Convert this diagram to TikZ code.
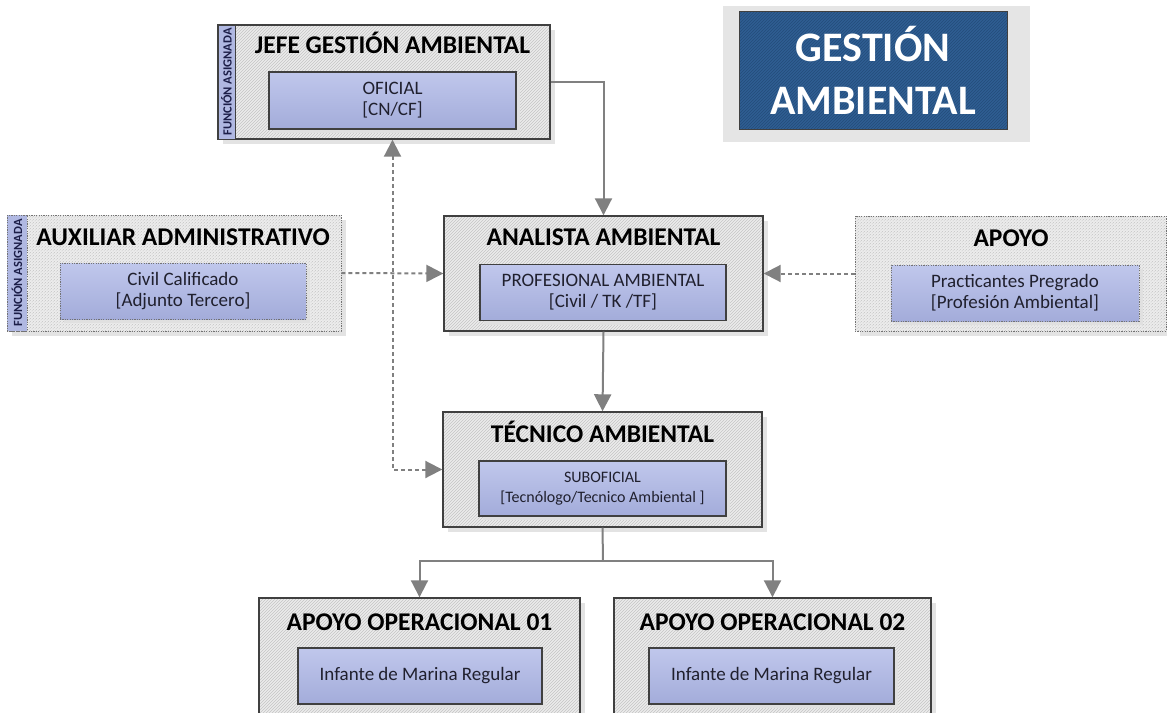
\documentclass[tikz,border=0pt]{standalone}
\usepackage{fontspec}
\setmainfont{Carlito}
\usetikzlibrary{arrows.meta,patterns,shadows,positioning}

\definecolor{boxgray}{RGB}{236,236,236}
\definecolor{hatchgray}{RGB}{196,196,196}
\definecolor{edgegray}{RGB}{64,64,64}
\definecolor{rolefill}{RGB}{176,184,226}
\definecolor{roletop}{RGB}{192,199,236}
\definecolor{rolebot}{RGB}{163,172,218}
\definecolor{linkgray}{RGB}{128,128,128}
\definecolor{bannerblue}{RGB}{47,94,146}
\definecolor{hatchblue}{RGB}{36,76,122}
\definecolor{panelgray}{RGB}{229,229,229}
\definecolor{navytext}{RGB}{28,30,72}
\definecolor{roletext}{RGB}{32,32,46}

\begin{document}
\begin{tikzpicture}[x=1pt,y=-1pt,
  unit/.style={draw=edgegray, line width=1.4pt, inner sep=0pt,
    drop shadow={shadow xshift=5pt, shadow yshift=-5pt, fill=black!11, opacity=1},
    preaction={fill=boxgray}, pattern=north east lines, pattern color=hatchgray},
  loose/.style={draw=black!55, line width=0.9pt, dash pattern=on 1.2pt off 1.2pt},
  unittitle/.style={anchor=base, inner sep=0pt, font=\fontsize{25.5}{28}\selectfont\bfseries},
  role/.style={draw=edgegray, line width=1.4pt, top color=roletop, bottom color=rolebot,
    drop shadow={shadow xshift=4pt, shadow yshift=-4pt, fill=black!12, opacity=1},
    minimum width=246pt, minimum height=56pt, inner sep=0pt, align=center,
    text=roletext, font=\fontsize{19}{21}\selectfont},
  tag/.style={rotate=90, draw=edgegray, line width=1pt, fill=rolefill, inner sep=0pt,
    text=navytext, font=\fontsize{12.5}{13}\selectfont\bfseries},
  solidlink/.style={draw=linkgray, line width=2pt, -{Triangle[length=17pt,width=17pt]}},
  dashlink/.style={solidlink, dash pattern=on 4pt off 3pt}]
\useasboundingbox (0,0) rectangle (1167,712);
\clip (0,0) rectangle (1167,712);

% banner
\node[fill=panelgray, minimum width=307pt, minimum height=136pt] (panel) at (876.5,74) {};
\node[draw=edgegray, line width=0.8pt, preaction={fill=bannerblue}, pattern=north east lines,
  pattern color=hatchblue, minimum width=268pt, minimum height=118pt, inner sep=0pt,
  align=center, text=white, font=\fontsize{42}{53}\selectfont\bfseries] (banner) at (873,70) {GESTIÓN\\AMBIENTAL};

% jefe
\node[unit, minimum width=332pt, minimum height=114pt] (jefe) at (384,82) {};
\node[tag, minimum width=114pt, minimum height=17pt] (jefetag) at (226.5,82) {FUNCIÓN ASIGNADA};
\node[unittitle] (jefetitle) at (392.5,53) {JEFE GESTIÓN AMBIENTAL};
\node[role, minimum width=247pt, minimum height=57pt] (ofi) at (392.5,100.5) {OFICIAL\\{}[CN/CF]};

% auxiliar
\node[unit, loose, minimum width=334pt, minimum height=116pt] (aux) at (174,273) {};
\node[tag, loose, minimum width=116pt, minimum height=20pt] (auxtag) at (17,273) {FUNCIÓN ASIGNADA};
\node[unittitle] (auxtitle) at (183,245) {AUXILIAR ADMINISTRATIVO};
\node[role, loose] (civil) at (183,291) {Civil Calificado\\{}[Adjunto Tercero]};

% analista
\node[unit, minimum width=319pt, minimum height=115pt] (analista) at (603.5,273.5) {};
\node[unittitle] (analistatitle) at (603.5,245) {ANALISTA AMBIENTAL};
\node[role] (prof) at (603,292.5) {PROFESIONAL AMBIENTAL\\{}[Civil / TK /TF]};

% apoyo
\node[unit, loose, minimum width=311pt, minimum height=115pt] (apoyo) at (1010.5,273.5) {};
\node[unittitle] (apoyotitle) at (1011,246) {APOYO};
\node[role, loose, minimum width=248pt] (pract) at (1015,293) {Practicantes Pregrado\\{}[Profesión Ambiental]};

% tecnico
\node[unit, minimum width=319pt, minimum height=115pt] (tecnico) at (602.5,469.5) {};
\node[unittitle] (tecnicotitle) at (602.5,442) {TÉCNICO AMBIENTAL};
\node[role, minimum width=247pt, minimum height=55pt, font=\fontsize{16}{20}\selectfont] (subof) at (602.5,488.5) {SUBOFICIAL\\{}[Tecnólogo/Tecnico Ambiental ]};

% apoyo operacional
\node[unit, minimum width=321pt, minimum height=117pt] (op1) at (419.5,656.5) {};
\node[unittitle] (op1title) at (419.5,630) {APOYO OPERACIONAL 01};
\node[role, minimum width=244pt] (inf1) at (420,676) {Infante de Marina Regular};
\node[unit, minimum width=317pt, minimum height=117pt] (op2) at (772.5,656.5) {};
\node[unittitle] (op2title) at (772.5,630) {APOYO OPERACIONAL 02};
\node[role, minimum width=245pt] (inf2) at (771.5,676) {Infante de Marina Regular};

% links
\coordinate (split) at (603,561);
\draw[solidlink] (jefe.east) -| (analista.north);
\draw[solidlink] (analista.south) -- (tecnico.north);
\draw[solidlink, -] (tecnico.south) -- (split);
\draw[solidlink] (split) -| (op1.north);
\draw[solidlink] (split) -| (op2.north);
\draw[dashlink] (aux.east) -- (analista.west);
\draw[dashlink] (apoyo.west) -- (analista.east);
\draw[dashlink, {Triangle[length=17pt,width=17pt]}-{Triangle[length=17pt,width=17pt]}] (ofi.south |- jefe.south) |- (tecnico.west);
\end{tikzpicture}
\end{document}
